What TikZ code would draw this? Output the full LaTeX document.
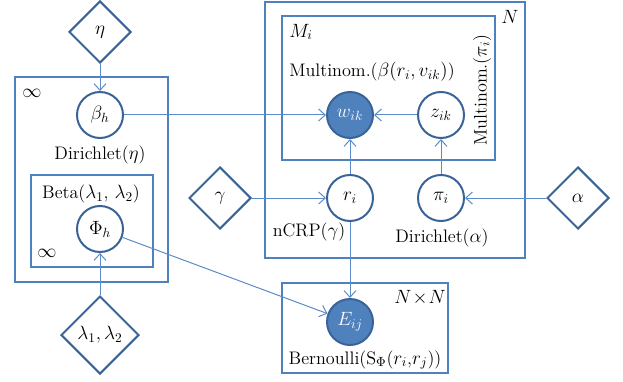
\documentclass[tikz,border=0pt]{standalone}
\usepackage{tikz}
\usepackage{amsmath}
\usetikzlibrary{shapes,shapes.geometric,arrows,arrows.meta,positioning,calc}
\definecolor{plateblue}{HTML}{4F81BD}
\definecolor{rimblue}{HTML}{3A6498}
\definecolor{edgeblue}{HTML}{5B8BC9}
\tikzset{
  latent/.style={circle,draw=rimblue,line width=1.5pt,fill=white,minimum size=34.5pt,inner sep=0pt},
  observed/.style={latent,fill=plateblue,text=white},
  hyper/.style={diamond,draw=rimblue,line width=1.5pt,fill=white,aspect=1,minimum width=46.5pt,minimum height=46.5pt,inner sep=0pt},
  plate/.style={draw=plateblue,line width=1.9pt},
  edge/.style={draw=edgeblue,line width=0.75pt,-{Straight Barb[length=5pt,width=9pt]}},
  lbl/.style={inner sep=0pt}
}
\begin{document}
\begin{tikzpicture}[x=0.75pt,y=-0.75pt,font=\fontsize{13.6}{15}\selectfont]
  \useasboundingbox (0,0) rectangle (623,381);

  % Plates
  \draw[plate] (15,77) rectangle (168,282);
  \draw[plate] (31,175) rectangle (153,267);
  \draw[plate] (265,2) rectangle (525,258);
  \draw[plate] (282,16) rectangle (495,160);
  \draw[plate] (282,283) rectangle (448,373);

  % Plate labels
  \node[lbl] (inf1) at (32,93) {$\infty$};
  \node[lbl] (inf2) at (47,253) {$\infty$};
  \node[lbl] (bigN) at (510,17) {$N$};
  \node[lbl] (bigM) at (301,32) {$M_i$};
  \node[lbl] (bigNN) at (420,298) {$N\!\times\!N$};

  % Hyperparameters
  \node[hyper] (eta) at (100,32) {$\eta$};
  \node[hyper,minimum width=58.5pt,minimum height=58.5pt] (lam) at (100,335) {$\lambda_1,\lambda_2$};
  \node[hyper] (gam) at (220,198) {$\gamma$};
  \node[hyper] (alp) at (578,198) {$\alpha$};

  % Variables
  \node[latent] (beta) at (100,115) {$\beta_h$};
  \node[latent] (phi) at (100,229) {$\Phi_h$};
  \node[observed] (w) at (350,115) {$w_{ik}$};
  \node[latent] (z) at (441,115) {$z_{ik}$};
  \node[latent] (r) at (350,198) {$r_i$};
  \node[latent] (pi) at (441,198) {$\pi_i$};
  \node[observed] (e) at (350,322) {$E_{ij}$};

  % Distributions
  \node[lbl] (dirbeta) at (100,155) {Dirichlet($\eta$)};
  \node[lbl] (betadist) at (91,194) {Beta($\lambda_1$, $\lambda_2$)};
  \node[lbl] (multw) at (372,72) {Multinom.($\beta(r_i,v_{ik})$)};
  \node[lbl,rotate=90] (multz) at (482,90) {Multinom.($\pi_i$)};
  \node[lbl] (ncrp) at (309,232) {nCRP($\gamma$)};
  \node[lbl] (dirpi) at (442,238) {Dirichlet($\alpha$)};
  \node[lbl] (bern) at (365,360) {Bernoulli(S$_\Phi$($r_i$,$r_j$))};

  % Edges
  \draw[edge] (eta) -- (beta);
  \draw[edge] (lam) -- (phi);
  \draw[edge] (beta) -- (w);
  \draw[edge] (z) -- (w);
  \draw[edge] (r) -- (w);
  \draw[edge] (pi) -- (z);
  \draw[edge] (gam) -- (r);
  \draw[edge] (alp) -- (pi);
  \draw[edge] (r) -- (e);
  \draw[edge] (phi) -- (e);
\end{tikzpicture}
\end{document}
